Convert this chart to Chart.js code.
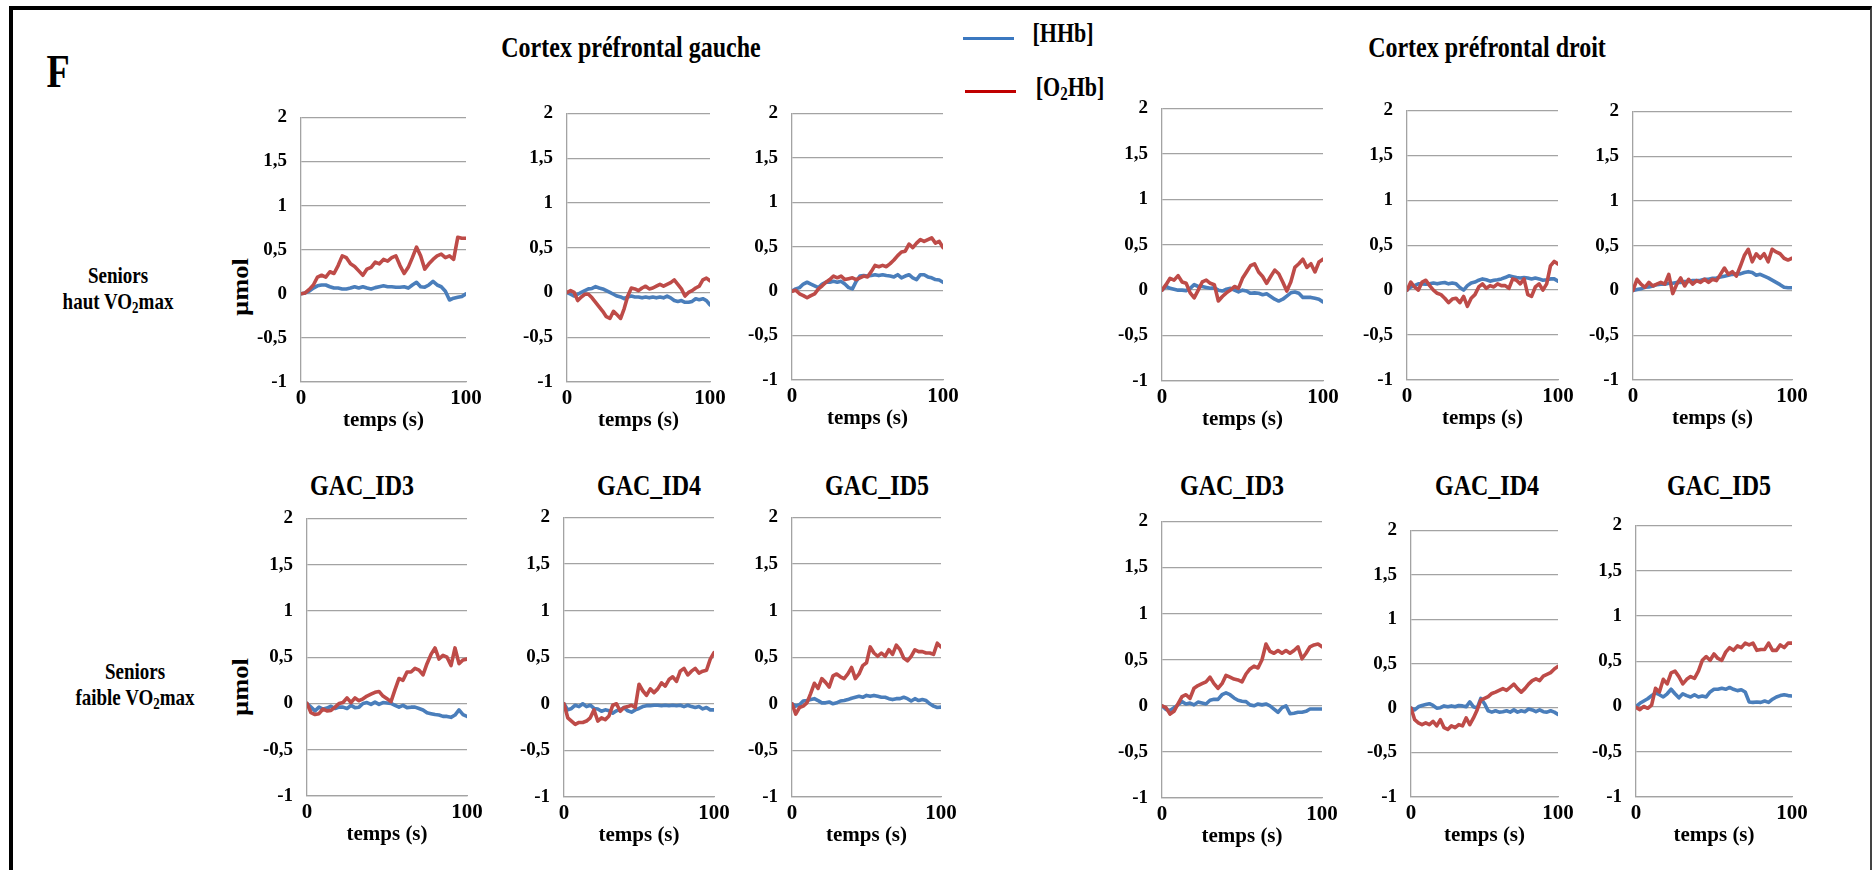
<!DOCTYPE html>
<html lang="fr">
<head>
<meta charset="utf-8">
<title>[HHb] / [O2Hb] - cortex préfrontal</title>
<script src="https://cdn.jsdelivr.net/npm/chart.js@4.4.1/dist/chart.umd.min.js"></script>
<style>
  html, body { margin: 0; padding: 0; background: #fff; }
  body { width: 1872px; height: 870px; position: relative; overflow: hidden;
         font-family: 'Liberation Serif', 'Times New Roman', serif; font-weight: bold; color: #000; }
  .frame { position: absolute; left: 9px; top: 6px; width: 1863px; height: 900px; box-sizing: border-box;
           border-left: 4px solid #000; border-top: 4px solid #000; border-right: 2px solid #444; }
  .txt { position: absolute; transform: translate(-50%, -50%) scaleY(1.22); white-space: nowrap; line-height: 1; }
  .txt sub { font-size: 0.68em; line-height: 0; vertical-align: -0.25em; }
  .rot { transform: translate(-50%, -50%) rotate(-90deg) scaleX(1.15); }
  .swatch { position: absolute; height: 3px; }
  .box { position: absolute; }
</style>
</head>
<body>
<div class="frame"></div>

<div class="txt" style="left:58px;top:71px;font-size:38px;">F</div>
<div class="txt" style="left:631px;top:47px;font-size:24px;">Cortex préfrontal gauche</div>
<div class="txt" style="left:1487px;top:47px;font-size:24px;">Cortex préfrontal droit</div>

<div class="swatch" style="left:963px;top:37px;width:51px;background:#3b78c0;"></div>
<div class="txt" style="left:1063px;top:33px;font-size:22px;">[HHb]</div>
<div class="swatch" style="left:965px;top:90px;width:51px;background:#c00000;"></div>
<div class="txt" style="left:1070px;top:87px;font-size:22px;">[O<sub>2</sub>Hb]</div>

<div class="txt" style="left:118px;top:275px;font-size:19px;">Seniors</div>
<div class="txt" style="left:118px;top:301px;font-size:19px;">haut VO<sub>2</sub>max</div>
<div class="txt" style="left:135px;top:671px;font-size:19px;">Seniors</div>
<div class="txt" style="left:135px;top:697px;font-size:19px;">faible VO<sub>2</sub>max</div>

<div class="txt rot" style="left:240px;top:287px;font-size:23px;">µmol</div>
<div class="txt rot" style="left:240px;top:687px;font-size:23px;">µmol</div>

<div class="txt" style="left:362px;top:485px;font-size:24px;">GAC_ID3</div>
<div class="txt" style="left:649px;top:485px;font-size:24px;">GAC_ID4</div>
<div class="txt" style="left:877px;top:485px;font-size:24px;">GAC_ID5</div>
<div class="txt" style="left:1232px;top:485px;font-size:24px;">GAC_ID3</div>
<div class="txt" style="left:1487px;top:485px;font-size:24px;">GAC_ID4</div>
<div class="txt" style="left:1719px;top:485px;font-size:24px;">GAC_ID5</div>

<script>
// time axis (s), shared by every panel
const temps = [0, 2.5, 5, 7.5, 10, 12.5, 15, 17.5, 20, 22.5, 25, 27.5, 30, 32.5, 35, 37.5, 40, 42.5, 45, 47.5,
  50, 52.5, 55, 57.5, 60, 62.5, 65, 67.5, 70, 72.5, 75, 77.5, 80, 82.5, 85, 87.5, 90, 92.5, 95, 97.5, 100];

const yTicks = [-1, -0.5, 0, 0.5, 1, 1.5, 2];
const xTicks = [0, 100];

// cortex préfrontal gauche - seniors haut VO2max
const gh1_hhb = [0, 0.01, 0.03, 0.065, 0.09, 0.1, 0.1, 0.08, 0.065, 0.065, 0.055, 0.055, 0.065, 0.08, 0.065, 0.08, 0.065, 0.055, 0.07, 0.08, 0.09, 0.08, 0.08, 0.075, 0.075, 0.08, 0.065, 0.1, 0.13, 0.08, 0.075, 0.1, 0.14, 0.1, 0.08, 0.03, -0.07, -0.05, -0.04, -0.03, 0];
const gh1_o2hb = [0, 0.01, 0.05, 0.1, 0.19, 0.21, 0.19, 0.25, 0.23, 0.32, 0.43, 0.41, 0.34, 0.31, 0.26, 0.21, 0.28, 0.3, 0.36, 0.34, 0.39, 0.37, 0.41, 0.43, 0.32, 0.23, 0.3, 0.41, 0.53, 0.43, 0.28, 0.34, 0.39, 0.43, 0.45, 0.41, 0.43, 0.39, 0.64, 0.63, 0.63];
const gh2_hhb = [0, -0.02, -0.04, -0.02, 0, 0.02, 0.04, 0.045, 0.065, 0.05, 0.04, 0.02, 0, -0.02, -0.04, -0.05, -0.07, -0.05, -0.04, -0.05, -0.05, -0.06, -0.05, -0.06, -0.05, -0.06, -0.05, -0.06, -0.04, -0.06, -0.09, -0.1, -0.09, -0.11, -0.11, -0.1, -0.07, -0.08, -0.07, -0.09, -0.14];
const gh2_o2hb = [0, 0.02, 0, -0.09, -0.05, -0.02, -0.02, -0.06, -0.11, -0.16, -0.21, -0.27, -0.29, -0.21, -0.25, -0.29, -0.18, -0.04, 0.05, 0.04, 0.02, 0.05, 0.07, 0.04, 0.05, 0.07, 0.09, 0.07, 0.09, 0.11, 0.14, 0.09, 0.04, -0.04, 0, 0.02, 0.05, 0.07, 0.14, 0.16, 0.13];
const gh3_hhb = [0, 0.025, 0.04, 0.08, 0.1, 0.08, 0.06, 0.04, 0.08, 0.1, 0.1, 0.11, 0.1, 0.11, 0.08, 0.04, 0.025, 0.11, 0.17, 0.175, 0.17, 0.175, 0.185, 0.175, 0.185, 0.175, 0.17, 0.16, 0.185, 0.15, 0.17, 0.185, 0.15, 0.13, 0.185, 0.185, 0.16, 0.15, 0.13, 0.125, 0.1];
const gh3_o2hb = [0, 0.01, -0.03, -0.05, -0.075, -0.05, -0.03, 0.025, 0.06, 0.1, 0.13, 0.17, 0.15, 0.17, 0.13, 0.14, 0.15, 0.13, 0.15, 0.17, 0.16, 0.22, 0.29, 0.275, 0.29, 0.275, 0.31, 0.35, 0.4, 0.44, 0.45, 0.53, 0.49, 0.54, 0.58, 0.56, 0.58, 0.6, 0.54, 0.56, 0.49];

// cortex préfrontal droit - seniors haut VO2max
const dh1_hhb = [0, 0.04, 0.02, 0.01, 0, 0, -0.005, 0.02, 0.06, 0.04, 0.04, 0.03, 0.02, 0.025, 0, -0.01, 0.01, 0.02, 0, -0.02, 0, -0.01, -0.035, -0.03, -0.035, -0.05, -0.04, -0.07, -0.1, -0.12, -0.1, -0.065, -0.03, -0.02, -0.035, -0.08, -0.08, -0.08, -0.09, -0.1, -0.13];
const dh1_o2hb = [0, 0.06, 0.13, 0.11, 0.16, 0.09, 0.075, -0.03, -0.085, 0, 0.09, 0.11, 0.075, 0.06, -0.12, -0.07, -0.03, 0, 0.04, 0.02, 0.13, 0.2, 0.27, 0.29, 0.2, 0.15, 0.075, 0.15, 0.22, 0.18, 0.09, -0.01, 0.09, 0.25, 0.29, 0.34, 0.25, 0.29, 0.2, 0.31, 0.34];
const dh2_hhb = [0, 0.035, 0.05, 0.07, 0.07, 0.065, 0.07, 0.08, 0.07, 0.08, 0.085, 0.07, 0.08, 0.07, 0.03, 0, 0.05, 0.08, 0.09, 0.11, 0.125, 0.115, 0.1, 0.11, 0.115, 0.125, 0.14, 0.16, 0.15, 0.14, 0.135, 0.14, 0.135, 0.125, 0.135, 0.125, 0.11, 0.115, 0.125, 0.125, 0.1];
const dh2_o2hb = [0, 0.09, 0.035, 0, 0.09, 0.11, 0.05, 0, -0.035, -0.05, -0.09, -0.14, -0.1, -0.09, -0.14, -0.07, -0.18, -0.09, -0.05, 0.035, 0.07, 0.02, 0.05, 0.035, 0.07, 0.05, 0.05, 0.02, 0.125, 0.11, 0.07, 0.125, -0.05, -0.07, 0.035, 0.07, 0, 0.07, 0.27, 0.32, 0.29];
const dh3_hhb = [0, 0.01, 0.02, 0.035, 0.04, 0.05, 0.065, 0.07, 0.07, 0.08, 0.08, 0.09, 0.09, 0.1, 0.1, 0.11, 0.11, 0.115, 0.125, 0.125, 0.135, 0.14, 0.15, 0.16, 0.17, 0.18, 0.185, 0.185, 0.2, 0.21, 0.2, 0.17, 0.18, 0.16, 0.14, 0.115, 0.09, 0.065, 0.035, 0.03, 0.03];
const dh3_o2hb = [0, 0.125, 0.07, 0.035, 0.09, 0.05, 0.07, 0.09, 0.07, 0.18, -0.035, 0.07, 0.14, 0.05, 0.125, 0.07, 0.11, 0.09, 0.125, 0.09, 0.125, 0.11, 0.18, 0.25, 0.18, 0.21, 0.16, 0.27, 0.39, 0.46, 0.32, 0.41, 0.36, 0.41, 0.32, 0.46, 0.43, 0.41, 0.36, 0.34, 0.36];

// cortex préfrontal gauche - seniors faible VO2max
const gf1_hhb = [0, -0.04, -0.08, -0.04, -0.06, -0.05, -0.03, -0.055, -0.04, -0.04, -0.055, -0.02, -0.045, -0.04, 0, 0.01, -0.01, 0.015, -0.01, 0.01, 0.005, 0, -0.02, -0.04, -0.02, -0.045, -0.04, -0.04, -0.055, -0.07, -0.1, -0.11, -0.12, -0.125, -0.14, -0.14, -0.15, -0.125, -0.07, -0.12, -0.14];
const gf1_o2hb = [0, -0.1, -0.12, -0.11, -0.06, -0.08, -0.075, -0.04, 0, 0.01, 0.06, 0.01, 0.06, 0.03, 0.05, 0.08, 0.1, 0.12, 0.13, 0.08, 0.05, 0.02, 0.15, 0.27, 0.25, 0.34, 0.34, 0.38, 0.36, 0.31, 0.43, 0.53, 0.6, 0.48, 0.52, 0.5, 0.41, 0.6, 0.43, 0.47, 0.48];
const gf2_hhb = [0, -0.065, -0.05, -0.015, -0.03, 0, -0.03, -0.015, -0.05, -0.055, -0.08, -0.065, -0.075, -0.1, -0.075, -0.065, -0.04, -0.075, -0.09, -0.065, -0.05, -0.03, -0.02, -0.02, -0.015, -0.015, -0.02, -0.015, -0.02, -0.015, -0.02, -0.015, -0.03, -0.015, -0.03, -0.04, -0.03, -0.055, -0.04, -0.065, -0.065];
const gf2_o2hb = [0, -0.15, -0.185, -0.22, -0.2, -0.2, -0.185, -0.15, -0.065, -0.185, -0.15, -0.17, -0.13, -0.015, 0, -0.08, -0.04, -0.03, -0.015, -0.04, 0.21, 0.14, 0.09, 0.16, 0.12, 0.16, 0.225, 0.19, 0.26, 0.29, 0.24, 0.35, 0.38, 0.31, 0.35, 0.38, 0.33, 0.35, 0.36, 0.48, 0.55];
const gf3_hhb = [0, -0.025, -0.01, 0.03, 0.035, 0.045, 0.055, 0.035, 0.01, 0.01, 0.02, 0, 0.01, 0.03, 0.035, 0.045, 0.06, 0.07, 0.08, 0.07, 0.09, 0.08, 0.09, 0.08, 0.07, 0.07, 0.055, 0.045, 0.055, 0.055, 0.07, 0.055, 0.03, 0.055, 0.035, 0.045, 0.035, 0, -0.025, -0.04, -0.035];
const gf3_o2hb = [0, -0.11, -0.04, -0.025, 0.01, 0.11, 0.22, 0.165, 0.27, 0.23, 0.18, 0.3, 0.32, 0.29, 0.27, 0.32, 0.39, 0.27, 0.32, 0.41, 0.44, 0.61, 0.545, 0.51, 0.545, 0.51, 0.58, 0.53, 0.63, 0.58, 0.49, 0.46, 0.51, 0.58, 0.56, 0.56, 0.545, 0.545, 0.53, 0.65, 0.61];

// cortex préfrontal droit - seniors faible VO2max
const df1_hhb = [0, -0.04, -0.05, -0.02, 0.01, 0.045, 0.02, 0.03, 0.01, 0.04, 0.03, 0.02, 0.06, 0.07, 0.07, 0.12, 0.14, 0.12, 0.085, 0.06, 0.05, 0.045, 0.01, 0, 0.02, 0.01, 0.02, 0, -0.035, -0.07, -0.02, 0, -0.085, -0.08, -0.07, -0.07, -0.06, -0.035, -0.035, -0.035, -0.035];
const df1_o2hb = [0, -0.02, -0.09, -0.06, 0.02, 0.1, 0.12, 0.08, 0.19, 0.22, 0.24, 0.26, 0.31, 0.24, 0.19, 0.24, 0.33, 0.31, 0.29, 0.28, 0.26, 0.345, 0.4, 0.43, 0.41, 0.5, 0.67, 0.59, 0.57, 0.6, 0.57, 0.6, 0.57, 0.6, 0.64, 0.51, 0.57, 0.64, 0.66, 0.67, 0.64];
const df2_hhb = [0, -0.02, 0.015, 0.03, 0.04, 0.05, 0.03, 0, 0.005, 0.025, 0.015, 0.025, 0.015, 0.03, 0.025, 0.015, 0.07, 0.015, 0, 0.11, 0.05, -0.03, -0.045, -0.03, -0.045, -0.04, -0.03, -0.045, -0.02, -0.045, -0.03, -0.04, -0.01, -0.02, -0.04, -0.02, -0.04, -0.045, -0.03, -0.045, -0.07];
const df2_o2hb = [0, -0.13, -0.165, -0.185, -0.165, -0.185, -0.15, -0.2, -0.13, -0.22, -0.24, -0.2, -0.22, -0.185, -0.2, -0.11, -0.185, -0.11, -0.02, 0.09, 0.11, 0.13, 0.165, 0.18, 0.2, 0.22, 0.2, 0.235, 0.27, 0.22, 0.18, 0.22, 0.27, 0.31, 0.33, 0.31, 0.36, 0.38, 0.4, 0.44, 0.47];
const df3_hhb = [0, 0.035, 0.06, 0.085, 0.12, 0.15, 0.13, 0.105, 0.14, 0.19, 0.14, 0.095, 0.14, 0.12, 0.105, 0.13, 0.105, 0.115, 0.105, 0.16, 0.19, 0.19, 0.2, 0.19, 0.21, 0.19, 0.175, 0.185, 0.16, 0.05, 0.045, 0.05, 0.045, 0.06, 0.045, 0.08, 0.105, 0.12, 0.13, 0.12, 0.115];
const df3_o2hb = [-0.01, -0.035, 0, -0.02, 0.015, 0.2, 0.16, 0.3, 0.25, 0.37, 0.39, 0.33, 0.25, 0.3, 0.33, 0.31, 0.39, 0.51, 0.55, 0.51, 0.58, 0.53, 0.51, 0.6, 0.65, 0.62, 0.67, 0.65, 0.7, 0.68, 0.7, 0.62, 0.63, 0.63, 0.7, 0.62, 0.62, 0.68, 0.65, 0.7, 0.7];

const BLUE = '#4a7ebb';
const RED = '#be4b48';
const GRID = '#a3a3a3';
const FONT = "'Liberation Serif', 'Times New Roman', serif";

// plot areas [left, top, right, bottom] in page pixels
const panels = [
  { rect: [301, 108, 466, 382], hhb: gh1_hhb, o2hb: gh1_o2hb },
  { rect: [567, 104, 710, 382], hhb: gh2_hhb, o2hb: gh2_o2hb },
  { rect: [792, 104, 943, 380], hhb: gh3_hhb, o2hb: gh3_o2hb },
  { rect: [1162, 99, 1323, 381], hhb: dh1_hhb, o2hb: dh1_o2hb },
  { rect: [1407, 101, 1558, 380], hhb: dh2_hhb, o2hb: dh2_o2hb },
  { rect: [1633, 102, 1792, 380], hhb: dh3_hhb, o2hb: dh3_o2hb },
  { rect: [307, 509, 467, 796], hhb: gf1_hhb, o2hb: gf1_o2hb },
  { rect: [564, 508, 714, 797], hhb: gf2_hhb, o2hb: gf2_o2hb },
  { rect: [792, 508, 941, 797], hhb: gf3_hhb, o2hb: gf3_o2hb },
  { rect: [1162, 512, 1322, 798], hhb: df1_hhb, o2hb: df1_o2hb },
  { rect: [1411, 521, 1558, 797], hhb: df2_hhb, o2hb: df2_o2hb },
  { rect: [1636, 516, 1792, 797], hhb: df3_hhb, o2hb: df3_o2hb }
];

const YW = 60, PT = 16, PR = 30, XH = 52;

function points(values) {
  return temps.map((t, i) => ({ x: t, y: values[i] }));
}

function makePanel(p) {
  const [l, t, r, b] = p.rect;
  const box = document.createElement('div');
  box.className = 'box';
  box.style.left = (l - YW) + 'px';
  box.style.top = (t - PT) + 'px';
  box.style.width = (r - l + YW + PR) + 'px';
  box.style.height = (b - t + PT + XH) + 'px';
  const canvas = document.createElement('canvas');
  box.appendChild(canvas);
  document.body.appendChild(box);

  new Chart(canvas, {
    type: 'line',
    data: {
      datasets: [
        { label: '[O2Hb]', data: points(p.o2hb), borderColor: RED, borderWidth: 3.6, pointRadius: 0,
          tension: 0, borderJoinStyle: 'round', borderCapStyle: 'round' },
        { label: '[HHb]', data: points(p.hhb), borderColor: BLUE, borderWidth: 3.6, pointRadius: 0,
          tension: 0, borderJoinStyle: 'round', borderCapStyle: 'round' }
      ]
    },
    options: {
      responsive: true,
      maintainAspectRatio: false,
      animation: false,
      events: [],
      layout: { padding: { top: PT, right: PR, left: 0, bottom: 0 } },
      plugins: { legend: { display: false }, tooltip: { enabled: false } },
      scales: {
        x: {
          type: 'linear',
          min: xTicks[0],
          max: xTicks[xTicks.length - 1],
          grid: { display: false, drawTicks: false },
          border: { color: GRID, width: 1.3 },
          afterBuildTicks: s => { s.ticks = xTicks.map(v => ({ value: v })); },
          ticks: { padding: 4, color: '#000', maxRotation: 0, autoSkip: false,
                   font: { family: FONT, size: 21, weight: 'bold' } },
          title: { display: true, text: 'temps (s)', color: '#000', padding: { top: 2, bottom: 1 },
                   font: { family: FONT, size: 21, weight: 'bold' } },
          afterFit: s => { s.height = XH; }
        },
        y: {
          min: yTicks[0],
          max: yTicks[yTicks.length - 1],
          afterBuildTicks: s => { s.ticks = yTicks.map(v => ({ value: v })); },
          grid: { color: GRID, lineWidth: 1.3, drawTicks: false },
          border: { color: GRID, width: 1.3 },
          ticks: { padding: 14, color: '#000', autoSkip: false,
                   font: { family: FONT, size: 19, weight: 'bold' },
                   callback: v => String(v).replace('.', ',') },
          afterFit: s => { s.width = YW; }
        }
      }
    }
  });
}

panels.forEach(makePanel);
</script>
</body>
</html>
